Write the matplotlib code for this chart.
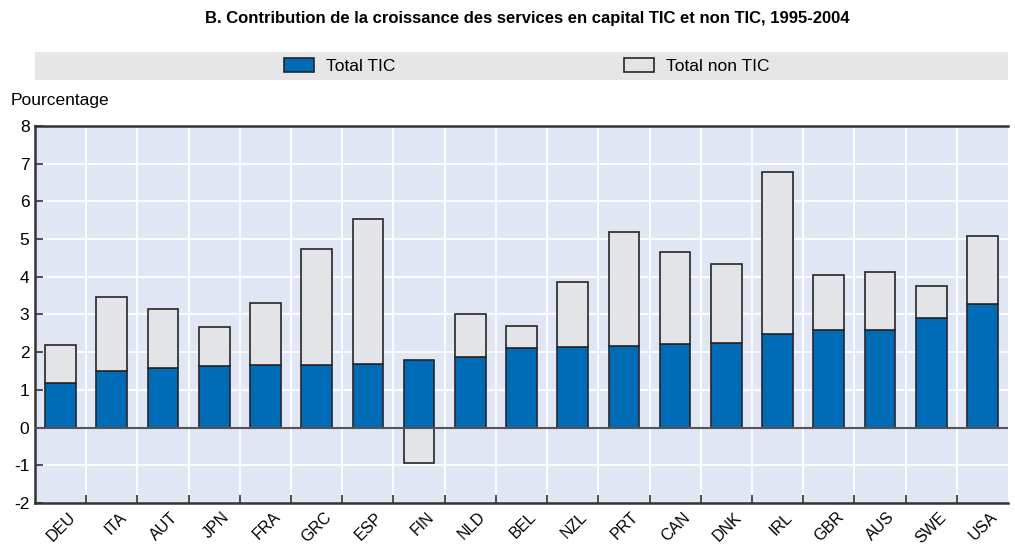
import matplotlib.pyplot as plt
import matplotlib.patches as mpatches
import numpy as np

plt.rcParams['font.family'] = ['Liberation Sans Narrow', 'Liberation Sans', 'DejaVu Sans']

# Data
countries = ['DEU', 'ITA', 'AUT', 'JPN', 'FRA', 'GRC', 'ESP', 'FIN', 'NLD', 'BEL',
             'NZL', 'PRT', 'CAN', 'DNK', 'IRL', 'GBR', 'AUS', 'SWE', 'USA']
total_tic = [1.18, 1.50, 1.58, 1.63, 1.66, 1.66, 1.70, 1.78, 1.86, 2.12,
             2.13, 2.17, 2.22, 2.25, 2.47, 2.58, 2.60, 2.90, 3.27]
total_non_tic = [1.02, 1.97, 1.57, 1.05, 1.64, 3.09, 3.83, -0.95, 1.16, 0.58,
                 1.73, 3.03, 2.45, 2.08, 4.30, 1.48, 1.53, 0.85, 1.80]

blue = '#006BB6'
light = '#E3E4E8'
edge = '#262626'

fig = plt.figure(figsize=(10.15, 5.47), dpi=100)
ax = fig.add_axes([0.0345, 0.0804, 0.9586, 0.6893])
ax.set_facecolor('#E0E6F4')

x = np.arange(len(countries))
tic = np.array(total_tic)
non = np.array(total_non_tic)
bottom_non = np.where(non >= 0, tic, 0)

ax.bar(x, tic, width=0.6, color=blue, edgecolor=edge, linewidth=1.2, label='Total TIC', zorder=3)
ax.bar(x, non, bottom=bottom_non, width=0.6, color=light, edgecolor=edge, linewidth=1.2,
       label='Total non TIC', zorder=3)

ax.set_xlim(-0.5, len(countries) - 0.5)
ax.set_ylim(-2, 8)
ax.set_yticks(range(-2, 9))
ax.set_yticklabels([str(v) for v in range(-2, 9)], fontsize=12.5)
ax.axhline(0, color='#555555', linewidth=1.5, zorder=4)

# white grid: horizontal at integers, vertical at category boundaries
for v in range(-1, 8):
    ax.axhline(v, color='white', linewidth=1.3, zorder=1)
for b in np.arange(0.5, len(countries) - 0.5):
    ax.axvline(b, color='white', linewidth=1.3, zorder=1)

ax.set_xticks(np.arange(0.5, len(countries) - 0.5))
ax.set_xticklabels([])
ax.tick_params(axis='x', direction='in', length=6, width=1.2, color='#333333')
ax.tick_params(axis='y', direction='in', length=6, width=1.2, color='#333333', pad=4)
for i, c in enumerate(countries):
    ax.text(i + 0.14, -2.17, c, rotation=45, ha='right', va='top', fontsize=11.5,
            rotation_mode='anchor')

for s in ['top', 'left', 'bottom']:
    ax.spines[s].set_linewidth(1.8)
    ax.spines[s].set_color('#333333')
ax.spines['right'].set_visible(False)

fig.text(0.519, 0.966, 'B. Contribution de la croissance des services en capital TIC et non TIC, 1995-2004',
         ha='center', va='center', fontsize=12, fontweight='bold')
fig.text(0.01, 0.817, 'Pourcentage', ha='left', va='center', fontsize=12.5)

# legend band
fig.patches.append(mpatches.Rectangle((0.0345, 0.854), 0.9586, 0.051, transform=fig.transFigure,
                                      facecolor='#E6E6E6', edgecolor='none', zorder=0))
fig.legend(loc='center', bbox_to_anchor=(0.519, 0.880), ncol=2, frameon=False, fontsize=12.5,
           handlelength=1.7, handleheight=0.9, handletextpad=0.7, columnspacing=13.2)

plt.savefig('out.png', dpi=100)
